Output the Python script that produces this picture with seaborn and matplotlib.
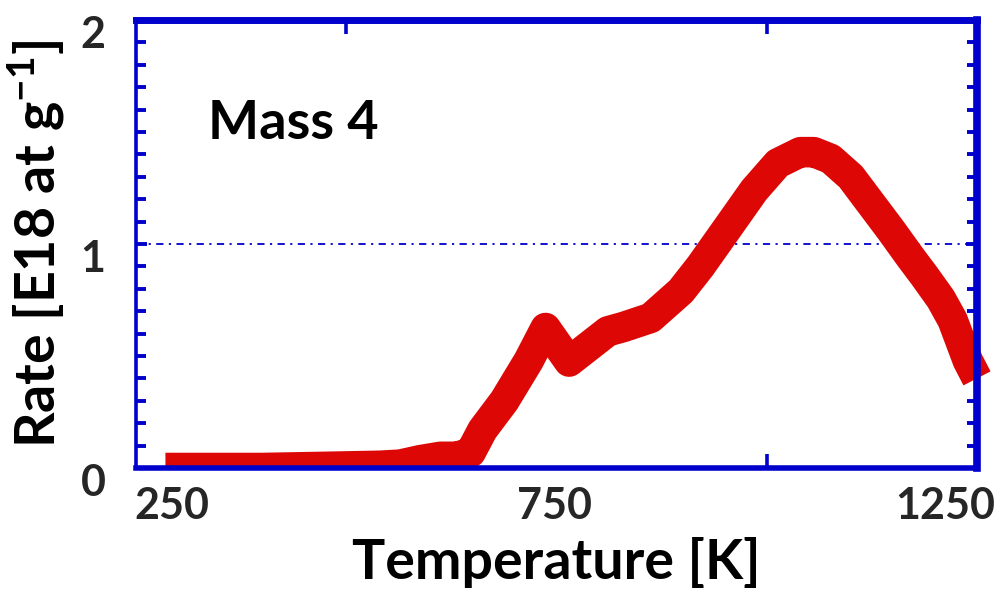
import numpy as np
import pandas as pd
import seaborn as sns
import matplotlib
matplotlib.use("Agg")
import matplotlib.pyplot as plt
import matplotlib.transforms as mtransforms
import matplotlib.patches as mpatches

# ---- data ----
temperature_K = [285, 400, 473, 540, 564, 588, 612, 632, 648, 662, 688, 717, 737,
                 765, 811, 830, 862, 898, 921, 954, 985, 1013, 1040, 1056, 1076,
                 1100, 1120, 1148, 1171, 1187, 1207, 1221, 1239, 1250]
rate_E18 = [0.0, 0.0, 0.005, 0.01, 0.015, 0.035, 0.05, 0.05, 0.07, 0.17, 0.30, 0.48, 0.625,
            0.475, 0.61, 0.63, 0.67, 0.79, 0.90, 1.075, 1.24, 1.36, 1.41, 1.41, 1.38,
            1.30, 1.20, 1.06, 0.94, 0.86, 0.755, 0.66, 0.48, 0.40]
x_tick_values = [250, 750, 1250]
x_tick_labels = ["250", "750", "1250"]
x_minor_ticks = [500, 750, 1000]
y_tick_values = [0, 1, 2]
y_tick_labels = ["0", "1", "2"]
ref_level = 1.0
annotation = "Mass 4"

df = pd.DataFrame({"T": temperature_K, "R": rate_E18})

sns.set_theme(style="white")
plt.rcParams["font.family"] = ["Lato", "DejaVu Sans"]
plt.rcParams["font.weight"] = "bold"
plt.rcParams["mathtext.fontset"] = "custom"
plt.rcParams["mathtext.rm"] = "Lato:bold"
plt.rcParams["mathtext.bf"] = "Lato:bold"
plt.rcParams["mathtext.it"] = "Lato:bold"

BLUE = "#0000CC"
RED = "#DD0806"

fig = plt.figure(figsize=(10.08, 5.96), dpi=100)
ax = fig.add_axes([136 / 1008, 1 - 468 / 596, (977 - 136) / 1008, (468 - 20) / 596])

ax.axhline(ref_level, color=BLUE, lw=1.3, ls=(0, (4, 3, 1.2, 3)), zorder=1)

sns.lineplot(data=df, x="T", y="R", ax=ax, color=RED, sort=False,
             estimator=None, zorder=3)
line = ax.lines[-1]
line.set_linewidth(22)
line.set_solid_capstyle("butt")
line.set_solid_joinstyle("round")
clip = mpatches.Rectangle((0, 0), 1.03, 1.0, transform=ax.transAxes)
line.set_clip_path(clip)

ax.set_xlim(250, 1250)
ax.set_ylim(0, 2)

for side, lw in [("left", 2.6), ("bottom", 4.0), ("top", 5.0), ("right", 5.5)]:
    ax.spines[side].set_color(BLUE)
    ax.spines[side].set_linewidth(lw)
    ax.spines[side].set_zorder(5)

# x ticks: labels at 250/750/1250 (no marks), marks at 500/750/1000
ax.set_xticks(x_tick_values)
ax.set_xticklabels(x_tick_labels, fontsize=31, fontweight="bold")
ax.tick_params(axis="x", which="major", length=0, pad=13)
ax.set_xticks(x_minor_ticks, minor=True)
ax.tick_params(axis="x", which="minor", direction="in", length=10, width=2.6,
               color=BLUE, top=True, bottom=True)

ax.set_yticks(y_tick_values)
ax.set_yticklabels(y_tick_labels, fontsize=31, fontweight="bold")
ax.tick_params(axis="y", which="major", direction="in", length=8, width=2.8,
               color=BLUE, left=True, right=True, pad=22)
ax.set_yticks(np.arange(0.1, 2.0, 0.1), minor=True)
ax.tick_params(axis="y", which="minor", direction="in", length=7.5, width=2.8,
               color=BLUE, left=True, right=True)

# label offsets (px)
xoffs = [36, -2, -32]
for lab, dx in zip(ax.get_xticklabels(), xoffs):
    lab.set_transform(lab.get_transform() +
                      mtransforms.ScaledTranslation(dx / 100, 0, fig.dpi_scale_trans))
for lab in ax.get_yticklabels():
    lab.set_transform(lab.get_transform() +
                      mtransforms.ScaledTranslation(0, -12 / 100, fig.dpi_scale_trans))

ax.set_xlabel("Temperature [K]", fontsize=40, fontweight="bold", color="black")
ax.set_ylabel(r"Rate [E18 at g$^{-1}$]", fontsize=40, fontweight="bold", color="black")
ax.xaxis.set_label_coords(0.5, -0.155)
ax.yaxis.set_label_coords(-0.082, 0.5)

ax.text(0.086, 0.735, annotation, transform=ax.transAxes, fontsize=39,
        fontweight="bold", color="black", ha="left", va="baseline")

ax.grid(False)
fig.savefig("out.png", dpi=100)
